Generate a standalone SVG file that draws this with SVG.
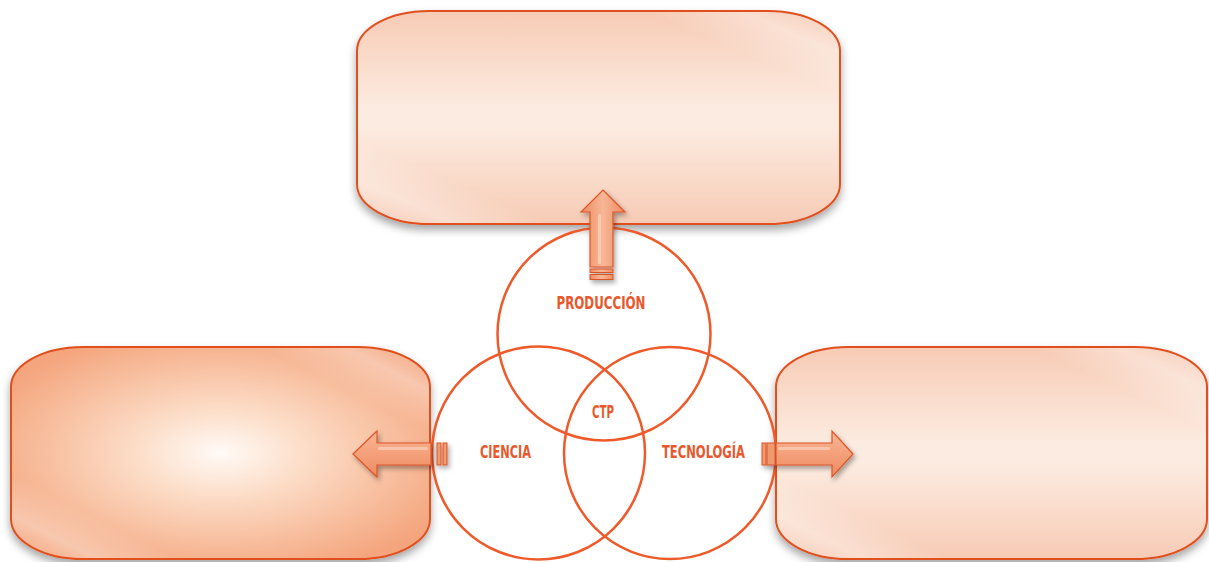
<svg xmlns="http://www.w3.org/2000/svg" width="1209" height="562" viewBox="0 0 1209 562">
<style>
.box{stroke:#E0501F;stroke-width:2}
.circ{fill:none;stroke:#EE5A2A;stroke-width:2.5}
.lbl{font-family:"DejaVu Sans Condensed","DejaVu Sans",sans-serif;font-weight:bold;font-size:18px;fill:#E8582C;text-anchor:middle}
.arr{fill:url(#ga);stroke:#DC5528;stroke-width:1.2}
.bar{fill:#F09A70;stroke:#DC5528;stroke-width:1}
.hl{fill:#fff;opacity:0.35}
</style>
<defs>
<filter id="sh" x="-10%" y="-10%" width="120%" height="130%">
<feDropShadow dx="0" dy="5" stdDeviation="4" flood-color="#000" flood-opacity="0.35"/>
</filter>
<filter id="sha" x="-30%" y="-30%" width="160%" height="160%">
<feDropShadow dx="2" dy="3" stdDeviation="2.5" flood-color="#000" flood-opacity="0.35"/>
</filter>
<linearGradient id="gt" x1="0" y1="0" x2="0" y2="1">
<stop offset="0" stop-color="#F7CBB5"/>
<stop offset="0.45" stop-color="#FCEBE0"/>
<stop offset="0.55" stop-color="#FCEBE0"/>
<stop offset="1" stop-color="#F7CBB5"/>
</linearGradient>
<linearGradient id="gsh" x1="0" y1="1" x2="1" y2="0">
<stop offset="0" stop-color="#fff" stop-opacity="0"/>
<stop offset="0.1" stop-color="#fff" stop-opacity="0.35"/>
<stop offset="0.2" stop-color="#fff" stop-opacity="0"/>
<stop offset="0.8" stop-color="#fff" stop-opacity="0"/>
<stop offset="0.9" stop-color="#fff" stop-opacity="0.35"/>
<stop offset="1" stop-color="#fff" stop-opacity="0"/>
</linearGradient>
<radialGradient id="gl" cx="0.5" cy="0.5" r="0.6">
<stop offset="0" stop-color="#FFFAF6"/>
<stop offset="0.35" stop-color="#FCDCC6"/>
<stop offset="1" stop-color="#F4A57D"/>
</radialGradient>
<linearGradient id="ga" x1="0" y1="0" x2="0" y2="1">
<stop offset="0" stop-color="#F7B796"/>
<stop offset="0.5" stop-color="#F4A07A"/>
<stop offset="1" stop-color="#EE8A60"/>
</linearGradient>
<linearGradient id="gav" x1="0" y1="0" x2="1" y2="0">
<stop offset="0" stop-color="#EE8A60"/>
<stop offset="0.5" stop-color="#F7B796"/>
<stop offset="1" stop-color="#EE8A60"/>
</linearGradient>
</defs>
<g id="box-top" filter="url(#sh)">
<rect class="box" x="357" y="11" width="483" height="213" rx="72" ry="40" fill="url(#gt)"/>
<rect x="358" y="12" width="481" height="211" rx="71" ry="39" fill="url(#gsh)"/>
</g>
<g id="box-left" filter="url(#sh)">
<rect class="box" x="11" y="347" width="419" height="212" rx="72" ry="40" fill="url(#gl)"/>
<rect x="12" y="348" width="417" height="210" rx="71" ry="39" fill="url(#gsh)"/>
</g>
<g id="box-right" filter="url(#sh)">
<rect class="box" x="776" y="347" width="431" height="212" rx="72" ry="40" fill="url(#gt)"/>
<rect x="777" y="348" width="429" height="210" rx="71" ry="39" fill="url(#gsh)"/>
</g>
<g id="circle-produccion">
<circle class="circ" cx="604" cy="334" r="106.5"/>
<text class="lbl" x="601" y="308.5" textLength="89" lengthAdjust="spacingAndGlyphs">PRODUCCIÓN</text>
</g>
<g id="circle-ciencia">
<circle class="circ" cx="538.5" cy="453" r="106.5"/>
<text class="lbl" x="505.5" y="458" textLength="51" lengthAdjust="spacingAndGlyphs">CIENCIA</text>
</g>
<g id="circle-tecnologia">
<circle class="circ" cx="670" cy="453" r="106"/>
<text class="lbl" x="703.5" y="458" textLength="83" lengthAdjust="spacingAndGlyphs">TECNOLOGÍA</text>
</g>
<g id="ctp">
<text class="lbl" x="603" y="418" textLength="22" lengthAdjust="spacingAndGlyphs">CTP</text>
</g>
<g id="connectors" filter="url(#sha)">
<g id="arrow-up">
<path class="arr" style="fill:url(#gav)" d="M603,190 L625,212 L613,212 L613,267 L590,267 L590,212 L581,212 Z"/>
<rect class="hl" x="598" y="214" width="3" height="50" rx="1.5"/>
<rect class="bar" style="fill:url(#gav)" x="590" y="269" width="23" height="3.5"/>
<rect class="bar" style="fill:url(#gav)" x="590" y="274.5" width="23" height="5"/>
</g>
<g id="arrow-left">
<path class="arr" d="M353,454 L377,431 L377,443 L431,443 L431,465 L377,465 L377,477 Z"/>
<rect class="hl" x="378" y="447" width="50" height="3" rx="1.5"/>
<rect class="bar" x="437" y="443" width="4" height="22"/>
<rect class="bar" x="443" y="443" width="4" height="22"/>
</g>
<g id="arrow-right">
<path class="arr" d="M853,454 L832,431 L832,443 L776,443 L776,465 L832,465 L832,477 Z"/>
<rect class="hl" x="778" y="447" width="52" height="3" rx="1.5"/>
<rect class="bar" x="762" y="443" width="4" height="22"/>
<rect class="bar" x="767" y="443" width="8" height="22"/>
</g>
</g>
</svg>
